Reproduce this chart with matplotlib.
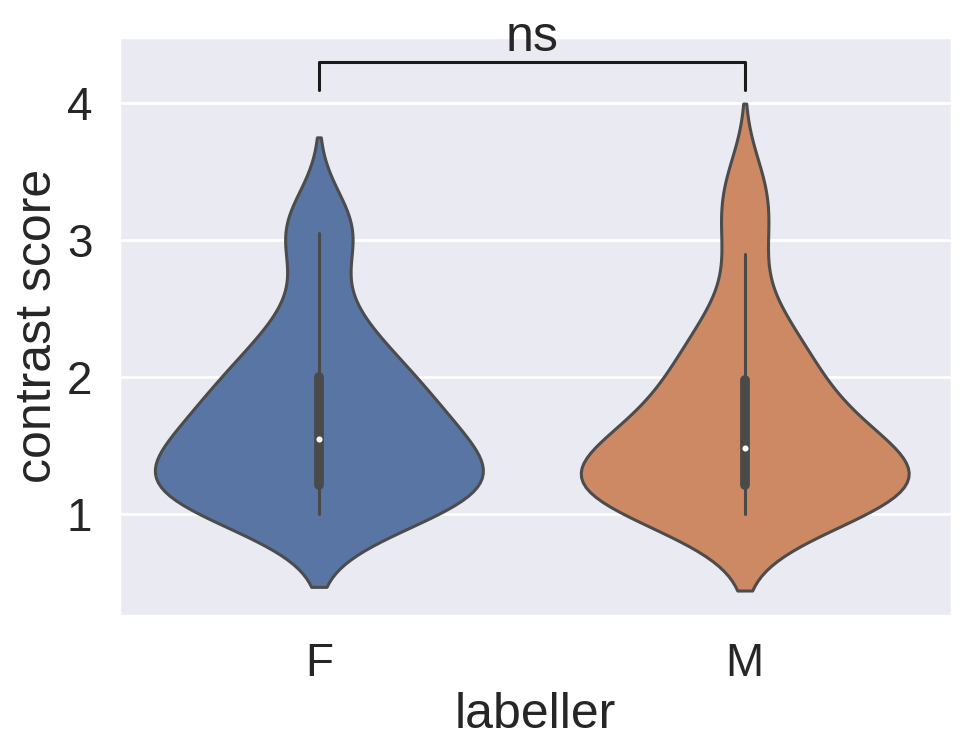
import numpy as np
import pandas as pd
import matplotlib
matplotlib.use('Agg')
import matplotlib.pyplot as plt
import seaborn as sns

# contrast scores per labeller group
scores_F = [1.0, 1.0, 1.02, 1.05, 1.1, 1.13, 1.17, 1.2, 1.22, 1.28, 1.33,
            1.37, 1.4, 1.45, 1.5, 1.55, 1.6, 1.65, 1.7, 1.78, 1.85, 1.9,
            1.95, 2.05, 2.12, 2.22, 2.35, 2.55, 2.95, 3.05, 3.22]
scores_M = [1.0, 1.0, 1.02, 1.05, 1.08, 1.12, 1.16, 1.2, 1.22, 1.25, 1.28,
            1.32, 1.35, 1.38, 1.43, 1.48, 1.52, 1.57, 1.62, 1.7, 1.78, 1.85,
            1.93, 2.03, 2.12, 2.22, 2.35, 2.5, 2.9, 3.2, 3.44]
groups = ['F', 'M']
yticks = [1, 2, 3, 4]
sig_label = 'ns'

df = pd.DataFrame({
    'labeller': ['F'] * len(scores_F) + ['M'] * len(scores_M),
    'contrast score': scores_F + scores_M,
})

sns.set_theme(style='darkgrid', font_scale=1.5)
plt.rcParams['font.family'] = ['Liberation Sans', 'DejaVu Sans']

fig = plt.figure(figsize=(4.845, 3.76), dpi=200)
ax = fig.add_axes([118.7 / 969, 1 - 615.7 / 752, 833 / 969, 579 / 752])

lw = 1.1
gray = '#4a4a4a'
sns.violinplot(data=df, x='labeller', y='contrast score', hue='labeller',
               order=groups, hue_order=groups, ax=ax, legend=False,
               inner=None, bw_adjust=0.85, linewidth=lw, width=0.77)

# inner box: whiskers, IQR bar, white median dot
for i, vals in enumerate([scores_F, scores_M]):
    v = np.array(vals)
    q25, q50, q75 = np.percentile(v, [25, 50, 75])
    lim = 1.5 * (q75 - q25)
    lo = v[v >= q25 - lim].min()
    hi = v[v <= q75 + lim].max()
    ax.plot([i, i], [lo, hi], c=gray, lw=lw, zorder=3)
    ax.plot([i, i], [q25, q75], c=gray, lw=lw * 3.2,
            solid_capstyle='round', zorder=3)
    ax.scatter([i], [q50], s=(lw * 2) ** 2, c='white',
               edgecolor=gray, lw=0, zorder=4)

ax.set_xlim(-0.47, 1.486)
ax.set_ylim(0.26, 4.484)
ax.set_yticks(yticks)
pad = plt.rcParams['axes.labelpad']
ax.set_ylabel('contrast score', labelpad=pad - 2)
ax.set_xlabel('labeller', labelpad=pad - 2)

# significance bracket
ax.plot([0, 0, 1, 1], [4.095, 4.30, 4.30, 4.095], c='k', lw=1.1)
ax.text(0.5, 4.31, sig_label, ha='center', va='bottom', fontsize=18)

fig.savefig('out.png', dpi=200)
